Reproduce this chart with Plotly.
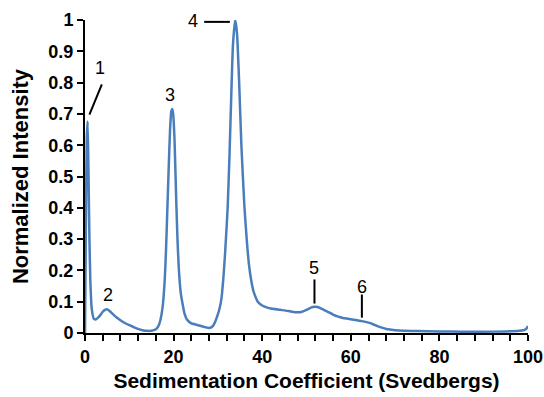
import plotly.graph_objects as go

# Curve
sed_coef = [0, 0.2, 0.4, 0.6, 0.8, 1.0, 1.2, 1.5, 2.0, 2.5, 3.0, 3.5, 4.0, 4.5, 4.9, 5.5, 6.0, 7.0, 8.0, 9.0,
            10, 11, 12, 13, 14, 15, 16, 16.5, 17, 17.5, 18, 18.3, 18.6, 18.9, 19.2, 19.5, 19.7, 19.9, 20.2, 20.6,
            20.9, 21.2, 21.6, 22, 22.5, 23, 24, 25, 26, 27, 28, 28.5, 29, 29.5, 30, 30.4, 30.8, 31.2, 31.6, 32.2,
            32.6, 33.0, 33.4, 33.9, 34.3, 34.8, 35.3, 36.0, 36.5, 37, 37.5, 38, 38.5, 39, 40, 41, 42, 44, 46, 47,
            48, 49, 50, 51, 51.8, 52.5, 53, 54, 55, 56, 57, 58, 60, 62.5, 64, 65, 66, 67, 68, 70, 72, 75, 80,
            85, 90, 95, 98, 99, 99.5, 100]
intensity = [0.0, 0.35, 0.62, 0.676, 0.5, 0.3, 0.17, 0.08, 0.045, 0.044, 0.05, 0.058, 0.068, 0.074, 0.076, 0.071, 0.064, 0.051, 0.041, 0.032,
             0.025, 0.019, 0.013, 0.009, 0.007, 0.007, 0.012, 0.02, 0.04, 0.08, 0.17, 0.27, 0.4, 0.53, 0.65, 0.71, 0.716, 0.70, 0.62, 0.42,
             0.29, 0.2, 0.13, 0.095, 0.06, 0.043, 0.031, 0.027, 0.023, 0.019, 0.016, 0.018, 0.025, 0.04, 0.06, 0.08, 0.11, 0.17, 0.25, 0.4,
             0.56, 0.75, 0.92, 1.0, 0.96, 0.8, 0.6, 0.4, 0.3, 0.22, 0.17, 0.135, 0.115, 0.1, 0.088, 0.082, 0.078, 0.074, 0.07, 0.067,
             0.066, 0.068, 0.074, 0.081, 0.084, 0.083, 0.08, 0.073, 0.066, 0.059, 0.053, 0.049, 0.044, 0.038, 0.033, 0.028, 0.022, 0.017, 0.013, 0.009, 0.007, 0.006, 0.005,
             0.004, 0.004, 0.005, 0.007, 0.009, 0.012, 0.022]

x_tick_vals = list(range(0, 101, 4))
x_tick_text = [str(v) if v % 20 == 0 else "" for v in x_tick_vals]
y_tick_vals = [0, 0.1, 0.2, 0.3, 0.4, 0.5, 0.6, 0.7, 0.8, 0.9, 1]
y_tick_text = ["0", "0.1", "0.2", "0.3", "0.4", "0.5", "0.6", "0.7", "0.8", "0.9", "1"]

peak_labels = ["1", "2", "3", "4", "5", "6"]
label_x = [3.4, 5.1, 19.2, 24.3, 51.6, 62.5]
label_y = [0.848, 0.123, 0.759, 0.996, 0.208, 0.148]
# leader lines: (x0, y0, x1, y1)
leader_lines = [(1.0, 0.698, 3.8, 0.794), (26.9, 0.994, 32.7, 0.994),
                (51.8, 0.094, 51.8, 0.171), (62.5, 0.049, 62.5, 0.123)]

FONT = "Liberation Sans, Arial"

fig = go.Figure()
fig.add_trace(go.Scatter(x=sed_coef, y=intensity, mode="lines",
                         line=dict(color="#4a7ebb", width=2.5, shape="spline", smoothing=0.5),
                         cliponaxis=False, showlegend=False))

for (x0, y0, x1, y1) in leader_lines:
    fig.add_shape(type="line", x0=x0, y0=y0, x1=x1, y1=y1, xref="x", yref="y",
                  line=dict(color="black", width=2))

for t, lx, ly in zip(peak_labels, label_x, label_y):
    fig.add_annotation(x=lx, y=ly, text=t, showarrow=False,
                       font=dict(family=FONT, size=18, color="black"))

fig.update_layout(
    width=544, height=397,
    margin=dict(l=85, r=16, t=20, b=64),
    plot_bgcolor="white", paper_bgcolor="white",
    font=dict(family=FONT, color="black"),
)
fig.update_xaxes(range=[0, 100], tickvals=x_tick_vals, ticktext=x_tick_text, automargin=False,
                 ticks="outside", ticklen=6, tickwidth=2, tickcolor="black",
                 showline=True, linecolor="black", linewidth=2, showgrid=False, zeroline=False,
                 tickfont=dict(size=18, family=FONT, weight="bold"),
                 title=dict(text="<b>Sedimentation Coefficient (Svedbergs)</b>",
                            font=dict(size=21, family=FONT), standoff=8))
fig.update_yaxes(range=[0, 1], tickvals=y_tick_vals, ticktext=y_tick_text, automargin=False,
                 ticks="outside", ticklen=6, tickwidth=2, tickcolor="black",
                 showline=True, linecolor="black", linewidth=2, showgrid=False, zeroline=False,
                 tickfont=dict(size=18, family=FONT, weight="bold"),
                 title=dict(text="<b>Normalized Intensity</b>",
                            font=dict(size=22, family=FONT), standoff=14))

fig.write_html("out.html", config={"displayModeBar": False},
               post_script="document.body.style.margin='0';")
